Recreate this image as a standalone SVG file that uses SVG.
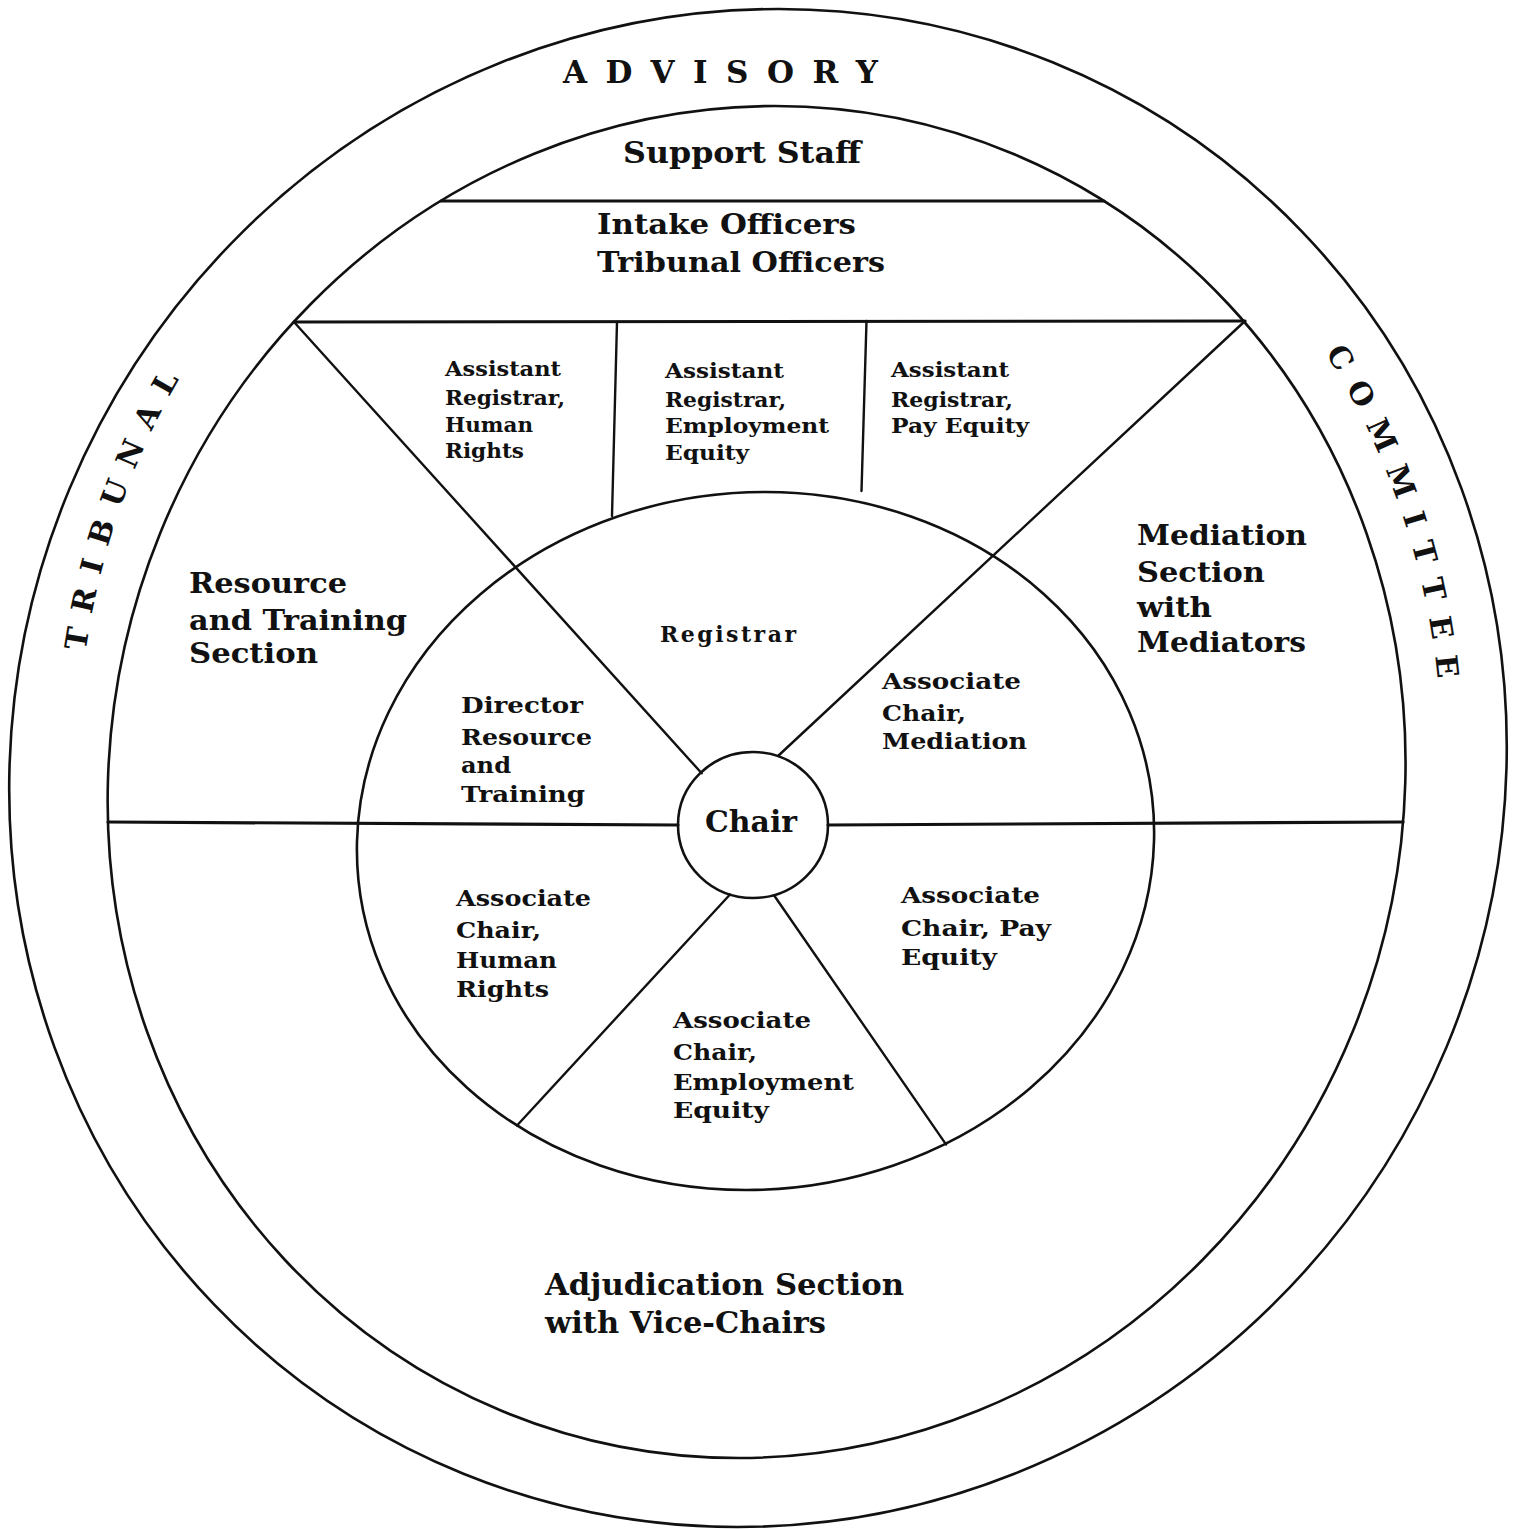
<svg xmlns="http://www.w3.org/2000/svg" width="1514" height="1529" viewBox="0 0 1514 1529">
<style>
.ring{fill:none;stroke:#111;stroke-width:2.6}
.div{fill:none;stroke:#111;stroke-width:2.4;stroke-linecap:round}
.thick{stroke-width:3.2}
.t{font-family:"DejaVu Serif","Liberation Serif",serif;font-weight:bold;fill:#111}
.s20{font-size:20.5px}.s22{font-size:22px}.s23{font-size:23px}.s27{font-size:27.5px}.s28{font-size:28px}.s29{font-size:29px}.s30{font-size:30px}
</style>
<defs>
<path id="band" d="M169.4,1123.5 A682,727 0 1 1 1350.6,1123.5"/>
</defs>
<rect width="1514" height="1529" fill="#fff"/>
<g id="rings" transform="matrix(1 0 -0.027 1 22.22 0)">
<ellipse class="ring" cx="756.5" cy="768" rx="748.5" ry="759"/>
<ellipse class="ring" cx="755.5" cy="782" rx="648.7" ry="676"/>
<ellipse class="ring" cx="756" cy="841" rx="398.5" ry="349"/>
</g>
<g id="connectors">
<line class="div thick" x1="441" y1="201" x2="1104" y2="201"/>
<line class="div thick" x1="294" y1="322" x2="1245" y2="321"/>
<line class="div" x1="617" y1="322" x2="612" y2="516"/>
<line class="div" x1="866.5" y1="321" x2="861.5" y2="491"/>
<line class="div" x1="294" y1="322" x2="701.7" y2="773.3"/>
<line class="div" x1="1245" y1="321" x2="778" y2="756"/>
<line class="div thick" x1="108" y1="822" x2="678" y2="825"/>
<line class="div thick" x1="828" y1="825" x2="1403" y2="822"/>
<line class="div" x1="730" y1="894.5" x2="517" y2="1125.5"/>
<line class="div" x1="774" y1="895.2" x2="946" y2="1144.4"/>
</g>
<g id="node-advisory"><text class="t" font-size="31" x="563" y="83" textLength="315">ADVISORY</text></g>
<g id="node-tribunal"><text class="t s30" letter-spacing="15" text-anchor="middle"><textPath href="#band" startOffset="640">TRIBUNAL</textPath></text></g>
<g id="node-committee"><text class="t s30" letter-spacing="16" text-anchor="middle"><textPath href="#band" startOffset="2345">COMMITTEE</textPath></text></g>
<g id="node-support-staff"><text class="t s29" x="623" y="163" textLength="238" lengthAdjust="spacingAndGlyphs">Support Staff</text></g>
<g id="node-officers">
<text class="t s28" x="597" y="234" textLength="259" lengthAdjust="spacingAndGlyphs">Intake Officers</text>
<text class="t s28" x="597" y="272" textLength="288" lengthAdjust="spacingAndGlyphs">Tribunal Officers</text>
</g>
<g id="node-ar-human-rights">
<text class="t s20" x="445" y="376" textLength="116" lengthAdjust="spacingAndGlyphs">Assistant</text>
<text class="t s20" x="445" y="405" textLength="120" lengthAdjust="spacingAndGlyphs">Registrar,</text>
<text class="t s20" x="445" y="432" textLength="88" lengthAdjust="spacingAndGlyphs">Human</text>
<text class="t s20" x="445" y="458" textLength="79" lengthAdjust="spacingAndGlyphs">Rights</text>
</g>
<g id="node-ar-employment-equity">
<text class="t s20" x="665" y="378" textLength="119" lengthAdjust="spacingAndGlyphs">Assistant</text>
<text class="t s20" x="665" y="407" textLength="121" lengthAdjust="spacingAndGlyphs">Registrar,</text>
<text class="t s20" x="665" y="433" textLength="164" lengthAdjust="spacingAndGlyphs">Employment</text>
<text class="t s20" x="665" y="460" textLength="84" lengthAdjust="spacingAndGlyphs">Equity</text>
</g>
<g id="node-ar-pay-equity">
<text class="t s20" x="891" y="377" textLength="118" lengthAdjust="spacingAndGlyphs">Assistant</text>
<text class="t s20" x="891" y="407" textLength="122" lengthAdjust="spacingAndGlyphs">Registrar,</text>
<text class="t s20" x="891" y="433" textLength="138" lengthAdjust="spacingAndGlyphs">Pay Equity</text>
</g>
<g id="node-resource-training-section">
<text class="t s27" x="189" y="593" textLength="158" lengthAdjust="spacingAndGlyphs">Resource</text>
<text class="t s27" x="189" y="630" textLength="218" lengthAdjust="spacingAndGlyphs">and Training</text>
<text class="t s27" x="189" y="663" textLength="129" lengthAdjust="spacingAndGlyphs">Section</text>
</g>
<g id="node-mediation-section">
<text class="t s27" x="1137" y="545" textLength="170" lengthAdjust="spacingAndGlyphs">Mediation</text>
<text class="t s27" x="1137" y="582" textLength="128" lengthAdjust="spacingAndGlyphs">Section</text>
<text class="t s27" x="1137" y="617" textLength="75" lengthAdjust="spacingAndGlyphs">with</text>
<text class="t s27" x="1137" y="652" textLength="169" lengthAdjust="spacingAndGlyphs">Mediators</text>
</g>
<g id="node-registrar"><text class="t s22" x="660" y="642" textLength="136">Registrar</text></g>
<g id="node-director">
<text class="t s23" x="461" y="713" textLength="122" lengthAdjust="spacingAndGlyphs">Director</text>
<text class="t s23" x="461" y="745" textLength="131" lengthAdjust="spacingAndGlyphs">Resource</text>
<text class="t s23" x="461" y="773" textLength="50" lengthAdjust="spacingAndGlyphs">and</text>
<text class="t s23" x="461" y="802" textLength="124" lengthAdjust="spacingAndGlyphs">Training</text>
</g>
<g id="node-ac-mediation">
<text class="t s23" x="882" y="689" textLength="139" lengthAdjust="spacingAndGlyphs">Associate</text>
<text class="t s23" x="882" y="721" textLength="84" lengthAdjust="spacingAndGlyphs">Chair,</text>
<text class="t s23" x="882" y="749" textLength="145" lengthAdjust="spacingAndGlyphs">Mediation</text>
</g>
<g id="node-ac-human-rights">
<text class="t s23" x="456" y="906" textLength="135" lengthAdjust="spacingAndGlyphs">Associate</text>
<text class="t s23" x="456" y="938" textLength="85" lengthAdjust="spacingAndGlyphs">Chair,</text>
<text class="t s23" x="456" y="968" textLength="101" lengthAdjust="spacingAndGlyphs">Human</text>
<text class="t s23" x="456" y="997" textLength="93" lengthAdjust="spacingAndGlyphs">Rights</text>
</g>
<g id="node-ac-pay-equity">
<text class="t s23" x="901" y="903" textLength="139" lengthAdjust="spacingAndGlyphs">Associate</text>
<text class="t s23" x="901" y="936" textLength="150" lengthAdjust="spacingAndGlyphs">Chair, Pay</text>
<text class="t s23" x="901" y="965" textLength="96" lengthAdjust="spacingAndGlyphs">Equity</text>
</g>
<g id="node-ac-employment-equity">
<text class="t s23" x="673" y="1028" textLength="138" lengthAdjust="spacingAndGlyphs">Associate</text>
<text class="t s23" x="673" y="1060" textLength="84" lengthAdjust="spacingAndGlyphs">Chair,</text>
<text class="t s23" x="673" y="1090" textLength="181" lengthAdjust="spacingAndGlyphs">Employment</text>
<text class="t s23" x="673" y="1118" textLength="96" lengthAdjust="spacingAndGlyphs">Equity</text>
</g>
<g id="node-chair">
<ellipse class="ring" cx="753" cy="825" rx="75" ry="73"/>
<text class="t s30" x="705" y="832" textLength="92" lengthAdjust="spacingAndGlyphs">Chair</text>
</g>
<g id="node-adjudication">
<text class="t s30" x="545" y="1295" textLength="359" lengthAdjust="spacingAndGlyphs">Adjudication Section</text>
<text class="t s30" x="545" y="1333" textLength="281" lengthAdjust="spacingAndGlyphs">with Vice-Chairs</text>
</g>
</svg>
